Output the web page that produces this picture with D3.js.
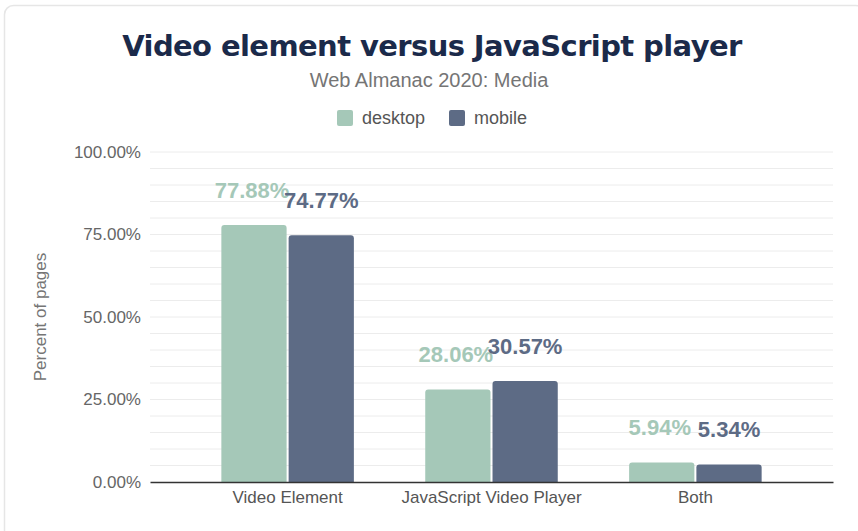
<!DOCTYPE html>
<html>
<head>
<meta charset="utf-8">
<script src="https://cdn.jsdelivr.net/npm/d3@7"></script>
<style>
  body { margin: 0; background: #fff; }
  svg { display: block; font-family: "Liberation Sans", Arial, sans-serif; }
</style>
</head>
<body>
<svg id="chart" width="858" height="531"></svg>
<script>
const categories = ['Video Element', 'JavaScript Video Player', 'Both'];
const seriesNames = ['desktop', 'mobile'];
const desktopValues = [77.88, 28.06, 5.94];
const mobileValues = [74.77, 30.57, 5.34];
const yTicks = [0, 25, 50, 75, 100];

const colors = { desktop: '#a5c8b8', mobile: '#5d6b85' };
const labelColors = { desktop: '#a5c8b8', mobile: '#5d6b85' };

const width = 858, height = 531;
const margin = { top: 152, right: 25, bottom: 49, left: 150 };

const svg = d3.select('#chart');

// card outline
svg.append('rect')
  .attr('x', 4.5).attr('y', 5.5)
  .attr('width', 860).attr('height', 540)
  .attr('rx', 9)
  .attr('fill', 'none')
  .attr('stroke', '#e6e6e6')
  .attr('stroke-width', 1.5);

const x = d3.scaleBand()
  .domain(categories)
  .range([margin.left, width - margin.right])
  .paddingInner(0.35)
  .paddingOuter(0.35);

const xInner = d3.scaleBand()
  .domain(seriesNames)
  .range([0, x.bandwidth()])
  .paddingInner(0.03);

const y = d3.scaleLinear()
  .domain([0, 100])
  .range([height - margin.bottom, margin.top]);

// minor gridlines every 5%
svg.append('g')
  .selectAll('line')
  .data(d3.range(5, 101, 5))
  .join('line')
  .attr('x1', margin.left)
  .attr('x2', width - margin.right)
  .attr('y1', d => y(d))
  .attr('y2', d => y(d))
  .attr('stroke', '#ececec')
  .attr('stroke-width', 1);

// y axis labels
const yAxis = svg.append('g')
  .attr('transform', `translate(${margin.left},0)`)
  .call(d3.axisLeft(y).tickValues(yTicks).tickSize(0).tickPadding(9)
    .tickFormat(d => d.toFixed(2) + '%'));
yAxis.select('.domain').remove();
yAxis.selectAll('text')
  .attr('fill', '#666')
  .style('font-size', '17px');

svg.append('text')
  .attr('transform', `translate(46,${(y(0) + y(100)) / 2}) rotate(-90)`)
  .attr('text-anchor', 'middle')
  .attr('fill', '#757575')
  .style('font-size', '17px')
  .text('Percent of pages');

const data = categories.map((c, i) => ({
  category: c,
  values: [
    { key: 'desktop', value: desktopValues[i] },
    { key: 'mobile', value: mobileValues[i] }
  ]
}));

// bars with rounded tops
function topRounded(x0, y0, w, h, r) {
  r = Math.min(r, h, w / 2);
  return `M${x0},${y0 + h}V${y0 + r}Q${x0},${y0} ${x0 + r},${y0}` +
    `H${x0 + w - r}Q${x0 + w},${y0} ${x0 + w},${y0 + r}V${y0 + h}Z`;
}

const groups = svg.append('g')
  .selectAll('g')
  .data(data)
  .join('g')
  .attr('transform', d => `translate(${x(d.category)},0)`);

groups.selectAll('path')
  .data(d => d.values)
  .join('path')
  .attr('d', d => topRounded(xInner(d.key), y(d.value), xInner.bandwidth(), y(0) - y(d.value), 3))
  .attr('fill', d => colors[d.key]);

groups.selectAll('text')
  .data(d => d.values)
  .join('text')
  .attr('x', d => xInner(d.key) + xInner.bandwidth() / 2 + (d.key === 'desktop' ? -2 : 0))
  .attr('y', d => y(d.value) - 27)
  .attr('text-anchor', 'middle')
  .attr('fill', d => labelColors[d.key])
  .style('font-size', '22px')
  .style('font-weight', 'bold')
  .text(d => d.value.toFixed(2) + '%');

// x axis
const xAxis = svg.append('g')
  .attr('transform', `translate(0,${y(0)})`)
  .call(d3.axisBottom(x).tickSize(0).tickPadding(9));
xAxis.select('.domain')
  .attr('stroke', '#333')
  .attr('stroke-width', 1.5);
xAxis.selectAll('text')
  .attr('fill', '#555')
  .style('font-size', '17px');

// title, subtitle
svg.append('text')
  .attr('x', width / 2 + 3)
  .attr('y', 56)
  .attr('text-anchor', 'middle')
  .attr('fill', '#1b2a4a')
  .style('font-size', '29px')
  .style('font-weight', '900')
  .style('font-family', '"DejaVu Sans", sans-serif')
  .style('letter-spacing', '-0.6px')
  .text('Video element versus JavaScript player');

svg.append('text')
  .attr('x', width / 2)
  .attr('y', 87)
  .attr('text-anchor', 'middle')
  .attr('fill', '#757575')
  .style('font-size', '20px')
  .text('Web Almanac 2020: Media');

// legend
const legendItems = [
  { key: 'desktop', x: 337 },
  { key: 'mobile', x: 449 }
];
const legend = svg.append('g')
  .selectAll('g')
  .data(legendItems)
  .join('g')
  .attr('transform', d => `translate(${d.x},110)`);
legend.append('rect')
  .attr('width', 16).attr('height', 16).attr('rx', 2)
  .attr('fill', d => colors[d.key]);
legend.append('text')
  .attr('x', 25).attr('y', 14)
  .attr('fill', '#555')
  .style('font-size', '18px')
  .text(d => d.key);
</script>
</body>
</html>
